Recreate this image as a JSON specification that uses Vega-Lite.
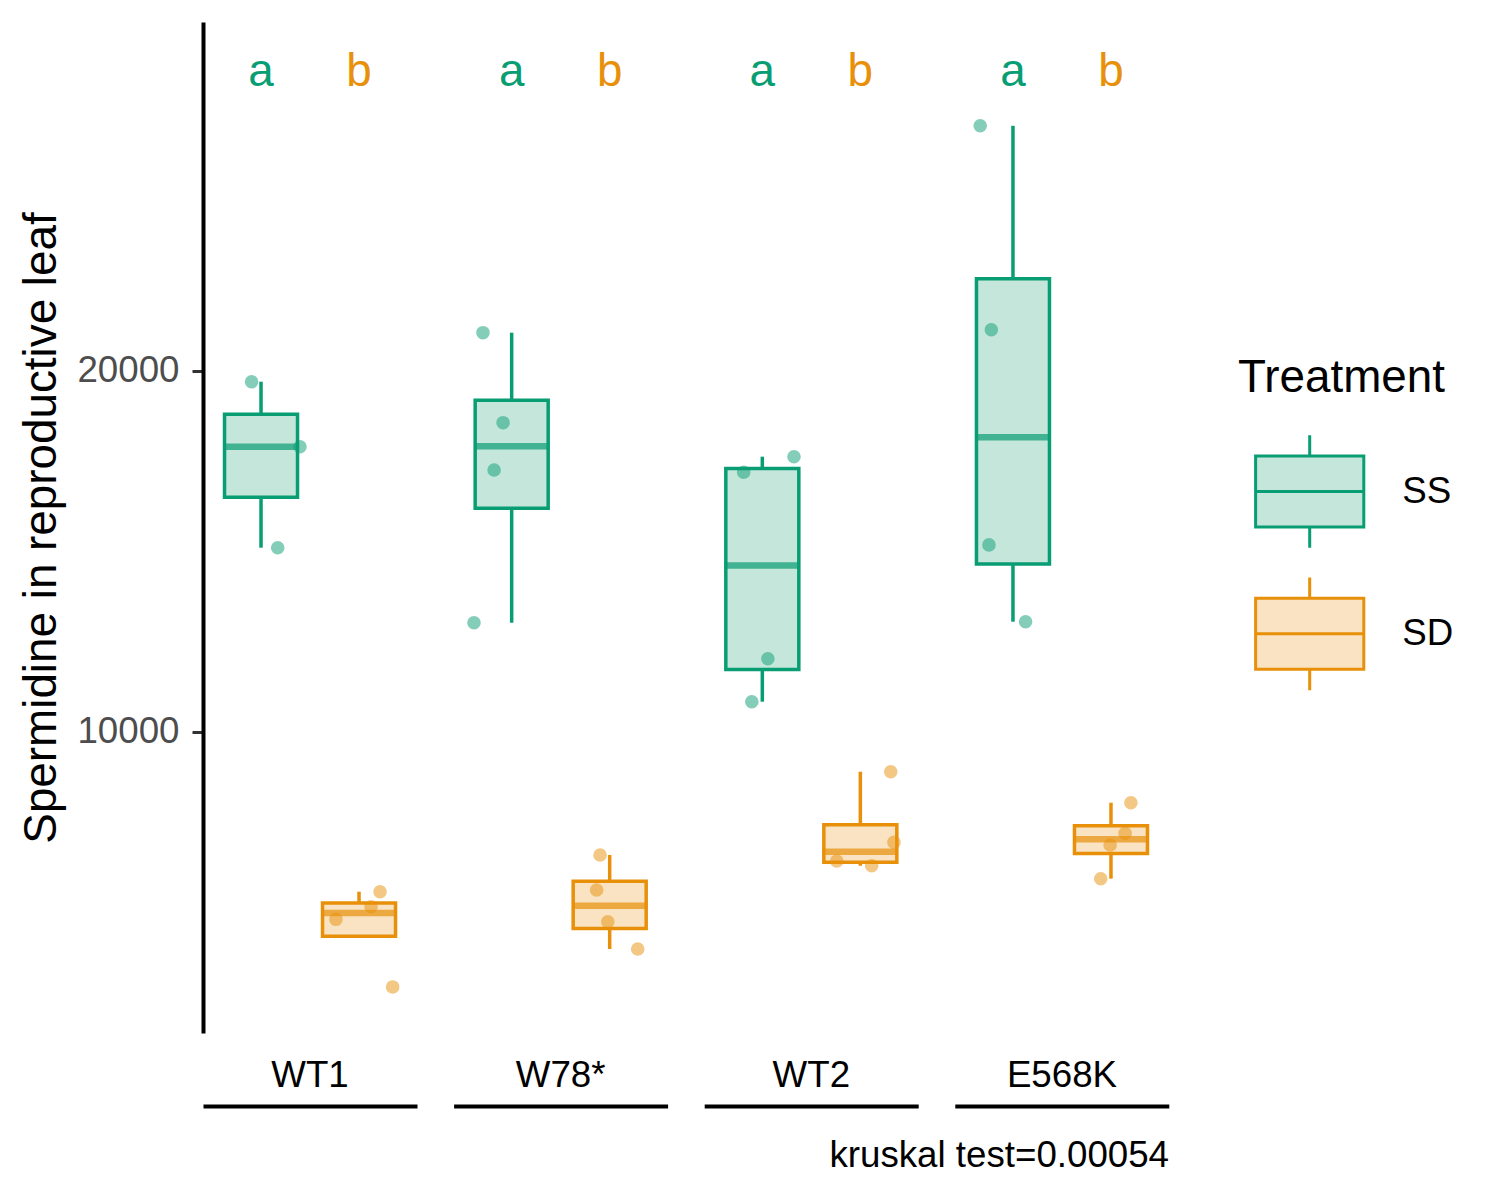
{
  "$schema": "https://vega.github.io/schema/vega-lite/v6.json",
  "width": 966,
  "height": 1011,
  "autosize": {"type": "none"},
  "padding": {"left": 203, "top": 22, "right": 331, "bottom": 167},
  "background": "white",
  "title": {
    "text": "kruskal test=0.00054",
    "orient": "bottom",
    "anchor": "end",
    "frame": "group",
    "offset": 32,
    "fontSize": 36.7,
    "fontWeight": "normal",
    "color": "black"
  },
  "datasets": {
    "spd": [
      {"Genotype": "WT1", "Treatment": "SS", "Spermidine": 19695, "jitter": 0.227},
      {"Genotype": "WT1", "Treatment": "SS", "Spermidine": 17895, "jitter": 0.453},
      {"Genotype": "WT1", "Treatment": "SS", "Spermidine": 15097, "jitter": 0.349},
      {"Genotype": "WT1", "Treatment": "SD", "Spermidine": 5568, "jitter": 0.827},
      {"Genotype": "WT1", "Treatment": "SD", "Spermidine": 5152, "jitter": 0.785},
      {"Genotype": "WT1", "Treatment": "SD", "Spermidine": 4803, "jitter": 0.621},
      {"Genotype": "WT1", "Treatment": "SD", "Spermidine": 2930, "jitter": 0.886},
      {"Genotype": "W78*", "Treatment": "SS", "Spermidine": 21053, "jitter": 0.137},
      {"Genotype": "W78*", "Treatment": "SS", "Spermidine": 18560, "jitter": 0.231},
      {"Genotype": "W78*", "Treatment": "SS", "Spermidine": 17249, "jitter": 0.189},
      {"Genotype": "W78*", "Treatment": "SS", "Spermidine": 13019, "jitter": 0.095},
      {"Genotype": "W78*", "Treatment": "SD", "Spermidine": 6584, "jitter": 0.684},
      {"Genotype": "W78*", "Treatment": "SD", "Spermidine": 5615, "jitter": 0.668},
      {"Genotype": "W78*", "Treatment": "SD", "Spermidine": 4737, "jitter": 0.720},
      {"Genotype": "W78*", "Treatment": "SD", "Spermidine": 3981, "jitter": 0.860},
      {"Genotype": "WT2", "Treatment": "SS", "Spermidine": 17618, "jitter": 0.419},
      {"Genotype": "WT2", "Treatment": "SS", "Spermidine": 17186, "jitter": 0.184},
      {"Genotype": "WT2", "Treatment": "SS", "Spermidine": 12022, "jitter": 0.297},
      {"Genotype": "WT2", "Treatment": "SS", "Spermidine": 10831, "jitter": 0.222},
      {"Genotype": "WT2", "Treatment": "SD", "Spermidine": 8892, "jitter": 0.871},
      {"Genotype": "WT2", "Treatment": "SD", "Spermidine": 6936, "jitter": 0.886},
      {"Genotype": "WT2", "Treatment": "SD", "Spermidine": 6418, "jitter": 0.619},
      {"Genotype": "WT2", "Treatment": "SD", "Spermidine": 6288, "jitter": 0.782},
      {"Genotype": "E568K", "Treatment": "SS", "Spermidine": 26784, "jitter": 0.118},
      {"Genotype": "E568K", "Treatment": "SS", "Spermidine": 21136, "jitter": 0.170},
      {"Genotype": "E568K", "Treatment": "SS", "Spermidine": 15175, "jitter": 0.159},
      {"Genotype": "E568K", "Treatment": "SS", "Spermidine": 13047, "jitter": 0.330},
      {"Genotype": "E568K", "Treatment": "SD", "Spermidine": 8033, "jitter": 0.822},
      {"Genotype": "E568K", "Treatment": "SD", "Spermidine": 7186, "jitter": 0.795},
      {"Genotype": "E568K", "Treatment": "SD", "Spermidine": 6862, "jitter": 0.725},
      {"Genotype": "E568K", "Treatment": "SD", "Spermidine": 5928, "jitter": 0.681}
    ],
    "letters": [
      {"Genotype": "WT1", "Treatment": "SS", "letter": "a"},
      {"Genotype": "WT1", "Treatment": "SD", "letter": "b"},
      {"Genotype": "W78*", "Treatment": "SS", "letter": "a"},
      {"Genotype": "W78*", "Treatment": "SD", "letter": "b"},
      {"Genotype": "WT2", "Treatment": "SS", "letter": "a"},
      {"Genotype": "WT2", "Treatment": "SD", "letter": "b"},
      {"Genotype": "E568K", "Treatment": "SS", "letter": "a"},
      {"Genotype": "E568K", "Treatment": "SD", "letter": "b"}
    ]
  },
  "data": {"name": "spd"},
  "encoding": {
    "x": {
      "field": "Genotype",
      "type": "nominal",
      "sort": ["WT1", "W78*", "WT2", "E568K"],
      "scale": {"type": "band", "paddingInner": 0.146, "paddingOuter": 0},
      "axis": {"title": null, "offset": 73, "labelPadding": -20, "labelBaseline": "alphabetic", "ticks": false, "tickSize": 0}
    }
  },
  "layer": [
    {
      "transform": [
        {
          "joinaggregate": [
            {"op": "q1", "field": "Spermidine", "as": "q1"},
            {"op": "q3", "field": "Spermidine", "as": "q3"},
            {"op": "median", "field": "Spermidine", "as": "med"}
          ],
          "groupby": ["Genotype", "Treatment"]
        },
        {"filter": "datum.Spermidine >= datum.q1 - 1.5 * (datum.q3 - datum.q1) && datum.Spermidine <= datum.q3 + 1.5 * (datum.q3 - datum.q1)"},
        {
          "aggregate": [
            {"op": "min", "field": "Spermidine", "as": "lower"},
            {"op": "max", "field": "Spermidine", "as": "upper"},
            {"op": "max", "field": "q1", "as": "q1"},
            {"op": "max", "field": "q3", "as": "q3"},
            {"op": "max", "field": "med", "as": "med"}
          ],
          "groupby": ["Genotype", "Treatment"]
        }
      ],
      "encoding": {
        "xOffset": {
          "field": "Treatment",
          "type": "nominal",
          "sort": ["SS", "SD"],
          "scale": {"type": "band", "paddingInner": 0, "paddingOuter": 0.092}
        }
      },
      "layer": [
        {
          "mark": {"type": "rule", "strokeWidth": 3.5},
          "encoding": {
            "y": {
              "field": "lower",
              "type": "quantitative",
              "title": "Spermidine in reproductive leaf",
              "scale": {"domain": [1654, 29659], "nice": false, "zero": false},
              "axis": {"values": [10000, 20000]}
            },
            "y2": {"field": "q1"},
            "color": {"field": "Treatment", "type": "nominal", "sort": ["SS", "SD"], "scale": {"range": ["#099D73", "#E8900A"]}, "legend": null}
          }
        },
        {
          "mark": {"type": "rule", "strokeWidth": 3.5},
          "encoding": {
            "y": {"field": "q3", "type": "quantitative", "title": "Spermidine in reproductive leaf"},
            "y2": {"field": "upper"},
            "color": {"field": "Treatment", "type": "nominal", "sort": ["SS", "SD"], "scale": {"range": ["#099D73", "#E8900A"]}, "legend": null}
          }
        },
        {
          "mark": {"type": "bar", "size": 73, "strokeWidth": 3.5},
          "encoding": {
            "y": {"field": "q1", "type": "quantitative", "title": "Spermidine in reproductive leaf"},
            "y2": {"field": "q3"},
            "fill": {
              "field": "Treatment",
              "type": "nominal",
              "scale": {"domain": ["SS", "SD"], "range": ["#C5E7DB", "#F9E3C2"]},
              "legend": {"title": "Treatment", "orient": "none", "legendX": 1035, "legendY": 334}
            },
            "stroke": {
              "field": "Treatment",
              "type": "nominal",
              "scale": {"domain": ["SS", "SD"], "range": ["#099D73", "#E8900A"]},
              "legend": {"title": "Treatment", "orient": "none", "legendX": 1035, "legendY": 334}
            }
          }
        },
        {
          "mark": {"type": "tick", "size": 75, "thickness": 6.5},
          "encoding": {
            "y": {"field": "med", "type": "quantitative", "title": "Spermidine in reproductive leaf"},
            "color": {"field": "Treatment", "type": "nominal", "sort": ["SS", "SD"], "scale": {"range": ["#099D73", "#E8900A"]}, "legend": null}
          }
        }
      ]
    },
    {
      "mark": {"type": "circle", "size": 185, "opacity": 0.5},
      "encoding": {
        "xOffset": {"field": "jitter", "type": "quantitative", "scale": {"domain": [0, 1], "nice": false, "zero": false}},
        "y": {"field": "Spermidine", "type": "quantitative", "title": "Spermidine in reproductive leaf"},
        "color": {"field": "Treatment", "type": "nominal", "sort": ["SS", "SD"], "scale": {"range": ["#099D73", "#E8900A"]}, "legend": null}
      }
    },
    {
      "data": {"name": "letters"},
      "mark": {"type": "text", "fontSize": 45.8, "baseline": "alphabetic", "align": "center"},
      "encoding": {
        "xOffset": {
          "field": "Treatment",
          "type": "nominal",
          "sort": ["SS", "SD"],
          "scale": {"type": "band", "paddingInner": 0, "paddingOuter": 0.092}
        },
        "y": {"datum": 27886, "type": "quantitative"},
        "text": {"field": "letter"},
        "color": {"field": "Treatment", "type": "nominal", "sort": ["SS", "SD"], "scale": {"range": ["#099D73", "#E8900A"]}, "legend": null}
      }
    }
  ],
  "resolve": {"scale": {"xOffset": "independent"}},
  "config": {
    "font": "Liberation Sans",
    "view": {"stroke": null},
    "axisX": {
      "labelAngle": 0,
      "labelFontSize": 36.7,
      "labelColor": "black",
      "domainColor": "black",
      "domainWidth": 4,
      "domainDash": [214, 36.6],
      "grid": false
    },
    "axisY": {
      "labelFontSize": 36.7,
      "labelColor": "#4D4D4D",
      "labelPadding": 13,
      "format": "d",
      "tickCount": 3,
      "tickColor": "#333333",
      "tickWidth": 3,
      "tickSize": 11,
      "domainColor": "black",
      "domainWidth": 4,
      "titleFontSize": 45.8,
      "titleFontWeight": "normal",
      "titleColor": "black",
      "titlePadding": 11,
      "grid": false
    },
    "legend": {
      "padding": 0,
      "titleFontSize": 45.8,
      "titleFontWeight": "normal",
      "titleColor": "black",
      "titlePadding": 31.7,
      "titleLimit": 500,
      "labelFontSize": 36.7,
      "labelColor": "black",
      "labelOffset": 34.6,
      "symbolType": "M-0.96,-0.63H0.96V0.63H-0.96Z M0,-1V-0.63 M0,0.63V1 M-0.96,0H0.96",
      "symbolSize": 12700,
      "symbolStrokeWidth": 3,
      "symbolOffset": 13.7,
      "rowPadding": 16.3
    }
  }
}
